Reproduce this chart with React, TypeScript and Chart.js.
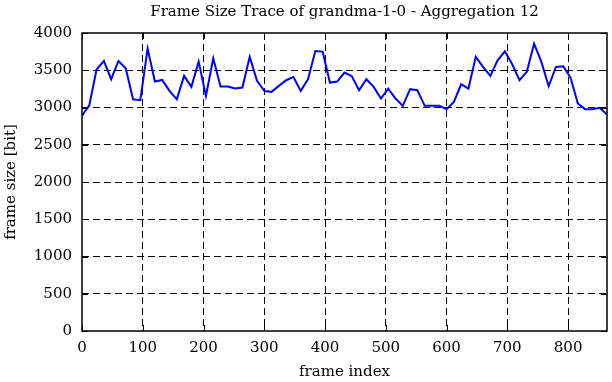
import React, { useEffect, useRef } from "react";
import { Chart, registerables } from "chart.js";

Chart.register(...registerables);

const TITLE = "Frame Size Trace of grandma-1-0 - Aggregation 12";
const X_LABEL = "frame index";
const Y_LABEL = "frame size [bit]";

const frameIndex = [
  0, 12, 24, 36, 48, 60, 72, 84, 96, 108, 120, 132, 144, 156, 168, 180, 192, 204,
  216, 228, 240, 252, 264, 276, 288, 300, 312, 324, 336, 348, 360, 372, 384, 396,
  408, 420, 432, 444, 456, 468, 480, 492, 504, 516, 528, 540, 552, 564, 576, 588,
  600, 612, 624, 636, 648, 660, 672, 684, 696, 708, 720, 732, 744, 756, 768, 780,
  792, 804, 816, 828, 840, 852, 864,
];

const frameSize = [
  2890, 3030, 3510, 3625, 3380, 3625, 3527, 3110, 3098, 3790, 3348, 3370, 3223, 3110,
  3424, 3277, 3616, 3156, 3660, 3281, 3281, 3254, 3268, 3680, 3357, 3223, 3210, 3290,
  3366, 3410, 3223, 3380, 3759, 3750, 3335, 3348, 3469, 3420, 3232, 3380, 3277, 3120,
  3254, 3120, 3022, 3246, 3232, 3022, 3022, 3022, 2978, 3076, 3312, 3254, 3680, 3545,
  3424, 3634, 3754, 3580, 3366, 3478, 3857, 3612, 3286, 3545, 3554, 3400, 3054, 2978,
  2978, 2996, 2906,
];

const xTickValues = [0, 100, 200, 300, 400, 500, 600, 700, 800];
const yTickValues = [0, 500, 1000, 1500, 2000, 2500, 3000, 3500, 4000];
const X_MIN = 0;
const X_MAX = 864;
const Y_MIN = 0;
const Y_MAX = 4000;

const FONT_FAMILY = '"DejaVu Serif", serif';
const FONT_SIZE = 15;

const framePlugin = {
  id: "gnuplotFrame",
  afterDatasetsDraw(chart: any) {
    const { ctx, chartArea } = chart;
    const { left, right, top, bottom } = chartArea;
    const xs = chart.scales.x;
    const ys = chart.scales.y;
    const tl = 6;
    ctx.save();
    ctx.strokeStyle = "#000";
    ctx.lineWidth = 1;
    ctx.setLineDash([]);
    ctx.beginPath();
    xTickValues.forEach((v) => {
      const px = Math.round(xs.getPixelForValue(v)) + 0.5;
      ctx.moveTo(px, bottom);
      ctx.lineTo(px, bottom - tl);
      ctx.moveTo(px, top);
      ctx.lineTo(px, top + tl);
    });
    yTickValues.forEach((v) => {
      const py = Math.round(ys.getPixelForValue(v)) + 0.5;
      ctx.moveTo(left, py);
      ctx.lineTo(left + tl, py);
      ctx.moveTo(right, py);
      ctx.lineTo(right - tl, py);
    });
    ctx.stroke();
    ctx.lineWidth = 1.5;
    ctx.strokeRect(left, top, right - left, bottom - top);
    ctx.restore();
  },
};

const textPlugin = {
  id: "gnuplotText",
  afterDraw(chart: any) {
    const { ctx, chartArea } = chart;
    const cx = (chartArea.left + chartArea.right) / 2;
    const cy = (chartArea.top + chartArea.bottom) / 2;
    ctx.save();
    ctx.fillStyle = "#000";
    ctx.font = `${FONT_SIZE}px ${FONT_FAMILY}`;
    ctx.textAlign = "center";
    ctx.textBaseline = "middle";
    ctx.fillText(TITLE, cx, 12);
    ctx.fillText(X_LABEL, cx, 372);
    ctx.translate(11, cy);
    ctx.rotate(-Math.PI / 2);
    ctx.fillText(Y_LABEL, 0, 0);
    ctx.restore();
  },
};

const edgeTransparent = (min: number, max: number) => (c: any) => {
  const v = c.tick ? c.tick.value : null;
  return v === min || v === max ? "rgba(0,0,0,0)" : "#000";
};

const plainLabel = (v: any) => String(v);

export default function App() {
  const canvasRef = useRef<HTMLCanvasElement | null>(null);

  useEffect(() => {
    const canvas = canvasRef.current;
    if (!canvas) return;
    const chart = new Chart(canvas, {
      type: "line",
      data: {
        datasets: [
          {
            data: frameIndex.map((x, i) => ({ x, y: frameSize[i] })),
            borderColor: "#0000ff",
            borderWidth: 2,
            pointRadius: 0,
            tension: 0,
            fill: false,
          },
        ],
      },
      options: {
        responsive: false,
        animation: false,
        devicePixelRatio: 1,
        layout: { padding: { top: 33, right: 5, left: 0, bottom: 0 } },
        plugins: {
          legend: { display: false },
          tooltip: { enabled: false },
          title: { display: false },
        },
        scales: {
          x: {
            type: "linear",
            min: X_MIN,
            max: X_MAX,
            afterBuildTicks: (s: any) => {
              s.ticks = xTickValues.map((value) => ({ value }));
            },
            afterFit: (s: any) => {
              s.height = 51;
            },
            grid: {
              color: edgeTransparent(X_MIN, X_MAX),
              lineWidth: 1,
              drawTicks: false,
            },
            border: { display: false, dash: [7, 4] },
            ticks: {
              color: "#000",
              font: { family: FONT_FAMILY, size: FONT_SIZE },
              padding: 8,
              maxRotation: 0,
              autoSkip: false,
              callback: plainLabel,
            },
          },
          y: {
            type: "linear",
            min: Y_MIN,
            max: Y_MAX,
            afterBuildTicks: (s: any) => {
              s.ticks = yTickValues.map((value) => ({ value }));
            },
            afterFit: (s: any) => {
              s.width = 82;
            },
            grid: {
              color: edgeTransparent(Y_MIN, Y_MAX),
              lineWidth: 1,
              drawTicks: false,
            },
            border: { display: false, dash: [7, 4] },
            ticks: {
              color: "#000",
              font: { family: FONT_FAMILY, size: FONT_SIZE },
              padding: 10,
              autoSkip: false,
              callback: plainLabel,
            },
          },
        },
      },
      plugins: [framePlugin, textPlugin],
    } as any);
    return () => chart.destroy();
  }, []);

  return (
    <div style={{ position: "fixed", left: 0, top: 0, width: 612, height: 382, background: "#fff" }}>
      <canvas ref={canvasRef} width={612} height={382} style={{ display: "block", width: 612, height: 382 }} />
    </div>
  );
}
